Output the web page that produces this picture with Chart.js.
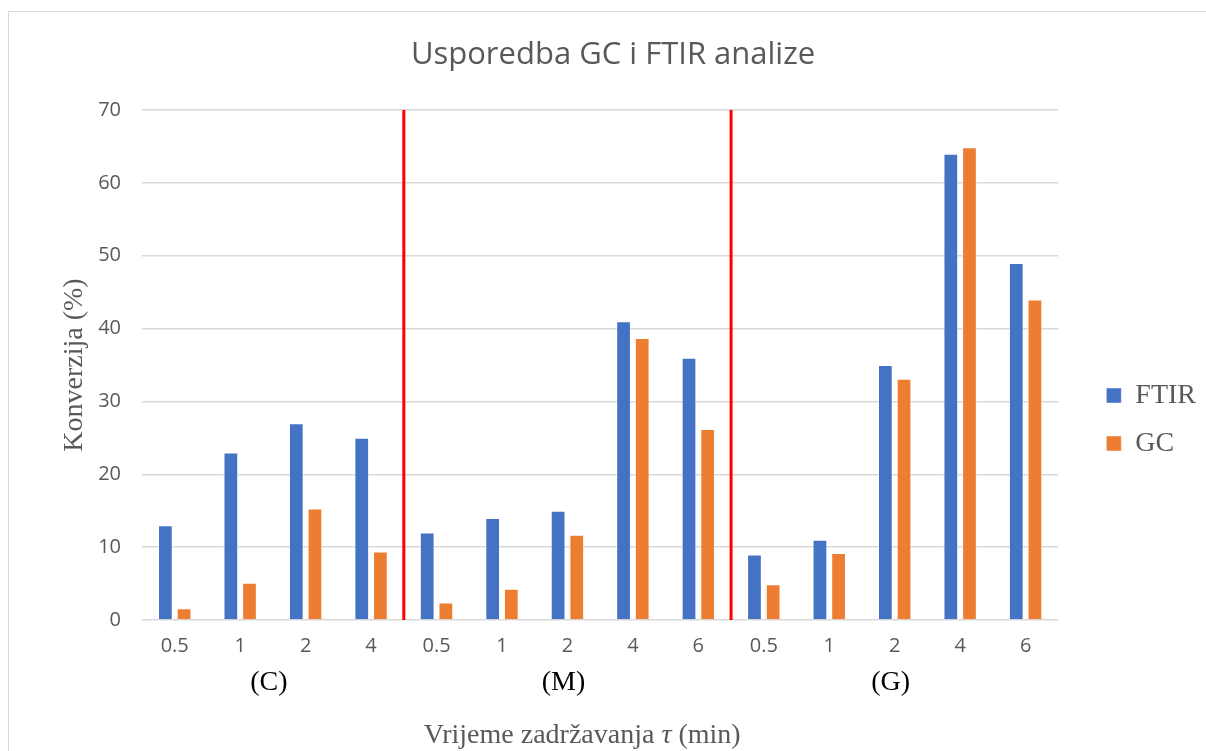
<!DOCTYPE html>
<html>
<head>
<meta charset="utf-8">
<script src="https://cdn.jsdelivr.net/npm/chart.js@4.4.0/dist/chart.umd.min.js"></script>
<style>
  html, body { margin: 0; padding: 0; background: #fff; overflow: hidden; }
  #wrap { position: relative; width: 1206px; height: 751px; overflow: hidden; }
  #frame { position: absolute; left: 8px; top: 11px; width: 1300px; height: 800px;
           border-left: 1px solid #d9d9d9; border-top: 1px solid #d9d9d9; }
  canvas { position: absolute; left: 0; top: 0; }
</style>
</head>
<body>
<div id="wrap">
  <div id="frame"></div>
  <canvas id="chart" width="1206" height="751"></canvas>
</div>
<script>
// x categories (residence time) and groups
const categories = ['0.5', '1', '2', '4', '0.5', '1', '2', '4', '6', '0.5', '1', '2', '4', '6'];
const groupNames = ['(C)', '(M)', '(G)'];
const groupSizes = [4, 5, 5];

// conversion in %
const ftirValues = [13, 23, 27, 25, 12, 14, 15, 41, 36, 9, 11, 35, 64, 49];
const gcValues = [1.6, 5.1, 15.3, 9.4, 2.4, 4.3, 11.7, 38.7, 26.2, 4.9, 9.2, 33.1, 64.9, 44];

const yTicks = [0, 10, 20, 30, 40, 50, 60, 70];

Chart.defaults.font.family = "'Open Sans', sans-serif";

// red separators, group names and the x title (with italic tau)
const groupPlugin = {
  id: 'groups',
  afterDatasetsDraw(chart) {
    const { ctx, chartArea, scales: { x } } = chart;
    ctx.save();
    let idx = 0;
    groupSizes.forEach((n, g) => {
      const first = x.getPixelForValue(idx);
      const last = x.getPixelForValue(idx + n - 1);
      ctx.fillStyle = '#000';
      ctx.font = "28px 'Liberation Serif'";
      ctx.textAlign = 'center';
      ctx.textBaseline = 'middle';
      ctx.fillText(groupNames[g], (first + last) / 2 - 4, chartArea.bottom + 63);
      if (g < groupSizes.length - 1) {
        const sep = (last + x.getPixelForValue(idx + n)) / 2;
        ctx.strokeStyle = '#ff0000';
        ctx.lineWidth = 3;
        ctx.beginPath();
        ctx.moveTo(sep, chartArea.top);
        ctx.lineTo(sep, chartArea.bottom);
        ctx.stroke();
      }
      idx += n;
    });

    const parts = [['Vrijeme zadržavanja ', "28px 'Liberation Serif'"], ['τ', "italic 28px 'Liberation Serif'"], [' (min)', "28px 'Liberation Serif'"]];
    let total = 0;
    parts.forEach(p => { ctx.font = p[1]; total += ctx.measureText(p[0]).width; });
    let cx = (chartArea.left + chartArea.right) / 2 - 18 - total / 2;
    ctx.fillStyle = '#595959';
    ctx.textAlign = 'left';
    parts.forEach(p => {
      ctx.font = p[1];
      ctx.fillText(p[0], cx, chartArea.bottom + 116);
      cx += ctx.measureText(p[0]).width;
    });
    ctx.restore();
  }
};

// move the legend a bit to the right and down, like in the original
const legendShift = {
  id: 'legendShift',
  afterLayout(chart) {
    const lg = chart.legend;
    lg.left += 28; lg.right += 28;
    lg.top += 44; lg.bottom += 44;
  }
};

new Chart(document.getElementById('chart'), {
  type: 'bar',
  data: {
    labels: categories,
    datasets: [{
      label: 'FTIR',
      data: ftirValues,
      backgroundColor: '#4472C4',
      borderColor: 'rgba(255,255,255,0.45)',
      borderWidth: 1,
      categoryPercentage: 0.57,
      barPercentage: 0.79
    }, {
      label: 'GC',
      data: gcValues,
      backgroundColor: '#ED7D31',
      borderColor: 'rgba(255,255,255,0.45)',
      borderWidth: 1,
      categoryPercentage: 0.57,
      barPercentage: 0.79
    }]
  },
  options: {
    responsive: false,
    devicePixelRatio: 1,
    animation: false,
    layout: { padding: { left: 48, right: 28, top: 0, bottom: 0 } },
    plugins: {
      title: {
        display: true,
        text: 'Usporedba GC i FTIR analize',
        color: '#595959',
        font: { size: 31, weight: 'normal' },
        padding: { top: 37, bottom: 35.8 }
      },
      legend: {
        position: 'right',
        labels: {
          color: '#595959',
          font: { family: "'Liberation Serif', serif", size: 28 },
          boxWidth: 15,
          boxHeight: 15,
          padding: 20
        }
      },
      tooltip: { enabled: false }
    },
    scales: {
      x: {
        grid: { display: false, drawTicks: false },
        border: { display: false },
        ticks: { padding: 14, color: '#595959', font: { size: 20 }, maxRotation: 0, autoSkip: false },
        afterFit(s) { s.height = 131; }
      },
      y: {
        min: 0,
        max: 70,
        afterBuildTicks(s) { s.ticks = yTicks.map(v => ({ value: v })); },
        afterFit(s) { s.width = 94; },
        grid: { color: '#d9d9d9', lineWidth: 1.5, drawTicks: false },
        border: { display: false },
        ticks: { padding: 21, color: '#595959', font: { size: 20 } },
        title: {
          display: true,
          text: 'Konverzija (%)',
          color: '#595959',
          font: { family: "'Liberation Serif', serif", size: 28 },
          padding: { top: 10, bottom: 0 }
        }
      }
    }
  },
  plugins: [groupPlugin, legendShift]
});
</script>
</body>
</html>
